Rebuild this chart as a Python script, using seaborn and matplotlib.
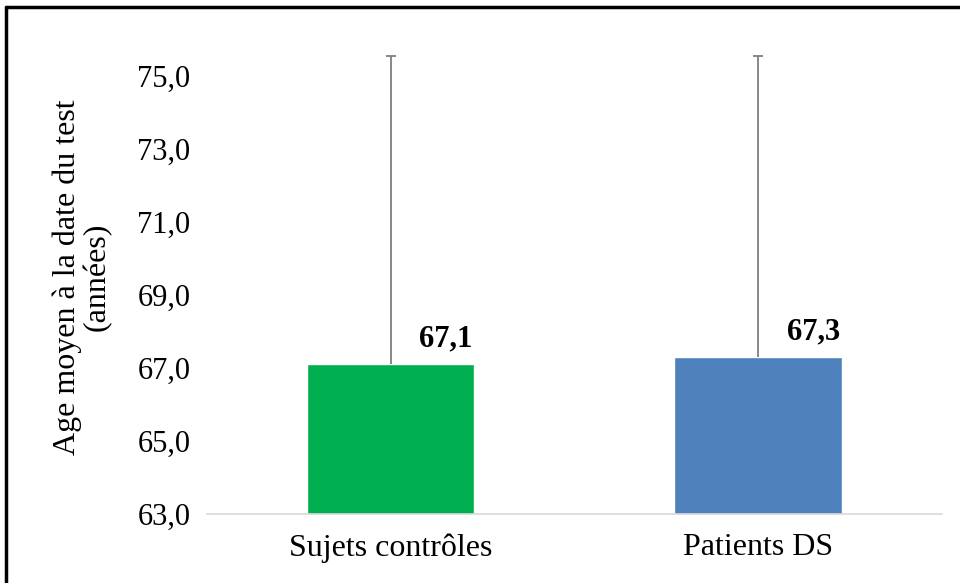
import matplotlib
matplotlib.use("Agg")
import matplotlib.pyplot as plt
from matplotlib.lines import Line2D
from matplotlib.ticker import FuncFormatter
import seaborn as sns
import pandas as pd

groups = ["Sujets contrôles", "Patients DS"]
mean_age = [67.1, 67.3]
sd_age = [8.45, 8.25]
bar_colors = ["#00B050", "#4F81BD"]
y_ticks = [63, 65, 67, 69, 71, 73, 75]

sns.set_style("white", {"text.color": "black", "axes.labelcolor": "black",
                        "xtick.color": "black", "ytick.color": "black"})
plt.rcParams["font.family"] = ["Liberation Serif", "DejaVu Serif"]

df = pd.DataFrame({"groupe": groups, "age": mean_age})

fig = plt.figure(figsize=(9.6, 5.83), dpi=100)
ax = fig.add_axes([0.2156, 0.1184, 0.7654, 0.8136])

sns.barplot(data=df, x="groupe", y="age", hue="groupe", palette=bar_colors,
            width=0.455, errorbar=None, legend=False, ax=ax, bottom=0,
            saturation=1)

# upward-only error bars (no cap at the bar top)
xs = list(range(len(groups)))
tops = [m + s for m, s in zip(mean_age, sd_age)]
ax.vlines(xs, mean_age, tops, color="#7F7F7F", lw=1.3, zorder=3)
ax.hlines(tops, [x - 0.014 for x in xs], [x + 0.014 for x in xs],
          color="#7F7F7F", lw=1.3, zorder=3)

for i, v in enumerate(mean_age):
    ax.annotate(f"{v:.1f}".replace(".", ","), (i + 0.15, v), xytext=(0, 8),
                textcoords="offset points", ha="center", va="bottom",
                fontsize=22, fontweight="bold", color="black")

ax.set_xlim(-0.5, len(groups) - 0.5)
ax.set_ylim(63, 76)
ax.set_yticks(y_ticks)
ax.yaxis.set_major_formatter(FuncFormatter(lambda v, p: f"{v:.1f}".replace(".", ",")))
ax.tick_params(axis="y", labelsize=22, pad=12, length=0)
ax.tick_params(axis="x", labelsize=23, pad=14, length=0)
ax.set_xlabel("")
ax.set_ylabel("Age moyen à la date du test\n(années)", fontsize=23, labelpad=18,
              linespacing=1.05)

for s in ["top", "right", "left"]:
    ax.spines[s].set_visible(False)
ax.spines["bottom"].set_color("#D9D9D9")
ax.spines["bottom"].set_linewidth(1.2)

# outer frame of the picture
fig.add_artist(Line2D([6 / 960, 1], [1 - 7 / 583, 1 - 7 / 583], color="black", lw=2.5))
fig.add_artist(Line2D([6 / 960, 6 / 960], [0, 1 - 7 / 583], color="black", lw=2.5))

fig.savefig("out.png", dpi=100)
